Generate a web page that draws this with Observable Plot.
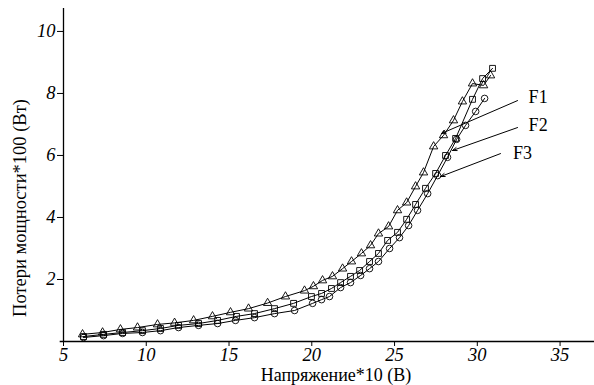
<!DOCTYPE html>
<html>
<head>
<meta charset="utf-8">
<script src="https://cdn.jsdelivr.net/npm/d3@7"></script>
<script src="https://cdn.jsdelivr.net/npm/@observablehq/plot@0.6"></script>
<style>
  html, body { margin: 0; padding: 0; background: #fff; }
  #chart svg { display: block; font-family: "Liberation Serif", "Times New Roman", serif; }
  #chart text.tick-italic, #chart .tick-italic text { font-style: italic; font-size: 18.5px; font-family: "Liberation Serif", serif; }
</style>
</head>
<body>
<div id="chart"></div>
<script>
// Series: triangles
const triX = [6.15, 7.36, 8.44, 9.47, 10.68, 11.71, 12.86, 14.0, 15.09, 16.18, 17.33, 18.41, 19.56, 20.1, 20.65, 21.25, 21.86, 22.4, 23.0, 23.55, 24.03, 24.64, 25.18, 25.73, 26.27, 26.75, 27.36, 27.96, 28.56, 29.1, 29.71, 30.38, 30.8];
const triY = [0.23, 0.29, 0.39, 0.45, 0.55, 0.60, 0.68, 0.81, 0.94, 1.06, 1.24, 1.45, 1.64, 1.78, 1.97, 2.10, 2.35, 2.58, 2.84, 3.10, 3.48, 3.71, 4.23, 4.48, 5.0, 5.45, 6.29, 6.65, 7.13, 7.74, 8.32, 8.26, 8.58];
// Series: squares
const sqX = [6.21, 7.42, 8.57, 9.77, 10.86, 11.95, 13.16, 14.31, 15.45, 16.54, 17.75, 18.9, 19.98, 20.59, 21.19, 21.74, 22.34, 22.89, 23.49, 24.03, 24.58, 25.18, 25.73, 26.27, 26.87, 27.48, 28.08, 28.69, 29.71, 30.32, 30.92];
const sqY = [0.16, 0.23, 0.29, 0.35, 0.42, 0.52, 0.58, 0.68, 0.81, 0.90, 1.06, 1.23, 1.45, 1.55, 1.71, 1.90, 2.10, 2.29, 2.58, 2.84, 3.26, 3.52, 3.94, 4.42, 4.94, 5.42, 6.0, 6.55, 7.81, 8.48, 8.81];
// Series: circles
const cirX = [6.21, 7.42, 8.57, 9.77, 10.86, 11.95, 13.16, 14.31, 15.39, 16.54, 17.75, 18.96, 20.05, 20.59, 21.07, 21.74, 22.34, 22.95, 23.49, 24.03, 24.7, 25.3, 25.85, 26.39, 27.0, 27.6, 28.2, 28.75, 29.29, 29.9, 30.44];
const cirY = [0.13, 0.19, 0.26, 0.29, 0.35, 0.45, 0.52, 0.58, 0.68, 0.77, 0.90, 1.0, 1.23, 1.35, 1.45, 1.74, 1.90, 2.13, 2.35, 2.58, 3.0, 3.35, 3.74, 4.23, 4.77, 5.35, 5.94, 6.52, 6.97, 7.42, 7.84];

// Annotations
const annLabels = ["F1", "F2", "F3"];
const annTextX = [33.1, 33.1, 32.15];
const annTextY = [7.87, 6.97, 6.06];
const annFromX = [32.43, 32.43, 31.4];
const annFromY = [7.77, 6.9, 6.06];
const annToX = [27.84, 28.5, 27.78];
const annToY = [6.71, 6.16, 5.32];

const xTicks = [5, 10, 15, 20, 25, 30, 35];
const yTicks = [2, 4, 6, 8, 10];
const xLabel = "Напряжение*10 (В)";
const yLabel = "Потери мощности*100 (Вт)";

const mk = (xs, ys) => xs.map((x, i) => ({x, y: ys[i]}));
const tri = mk(triX, triY), sq = mk(sqX, sqY), cir = mk(cirX, cirY);
const ann = annLabels.map((t, i) => ({t, tx: annTextX[i], ty: annTextY[i], x1: annFromX[i], y1: annFromY[i], x2: annToX[i], y2: annToY[i]}));

const chart = Plot.plot({
  width: 594,
  height: 385,
  marginLeft: 63,
  marginRight: 0,
  marginTop: 8,
  marginBottom: 44,
  style: {fontFamily: "Liberation Serif, serif", fontSize: "17px", color: "#000", background: "#fff"},
  x: {domain: [5, 37.08]},
  y: {domain: [0, 10.74]},
  marks: [
    Plot.axisX({ticks: xTicks, tickSize: 5, tickFormat: () => "", label: null}),
    Plot.axisY({ticks: yTicks, tickSize: 6, tickFormat: () => "", label: null}),
    Plot.text(xTicks, {x: d => d, y: 0, dy: 14, text: d => String(d), fontStyle: "italic", fontSize: 18.5, fontFamily: "Liberation Serif", fill: "#000", className: "tick-italic"}),
    Plot.text(yTicks, {x: 5, y: d => d, dx: -8, text: d => String(d), textAnchor: "end", fontStyle: "italic", fontSize: 18.5, fontFamily: "Liberation Serif", fill: "#000", className: "tick-italic"}),
    Plot.ruleY([0], {x1: 4.8, x2: 37.08, stroke: "#000", strokeWidth: 1.3}),
    Plot.ruleX([5], {y1: 0, y2: 10.74, stroke: "#000", strokeWidth: 1.3}),
    Plot.text([xLabel], {frameAnchor: "bottom", textAnchor: "middle", dy: 39, dx: 7, fontSize: 18, fill: "#000"}),
    Plot.text([yLabel], {frameAnchor: "left", textAnchor: "middle", dx: -43, dy: 33, rotate: -90, fontSize: 18.5, fill: "#000"}),
    Plot.line(tri, {x: "x", y: "y", stroke: "#000", strokeWidth: 1}),
    Plot.line(sq, {x: "x", y: "y", stroke: "#000", strokeWidth: 1}),
    Plot.line(cir, {x: "x", y: "y", stroke: "#000", strokeWidth: 1}),
    Plot.dot(tri, {x: "x", y: "y", symbol: "triangle", r: 3.1, stroke: "#000", fill: "none", strokeWidth: 0.9}),
    Plot.dot(sq, {x: "x", y: "y", symbol: "square", r: 3.3, stroke: "#000", fill: "none", strokeWidth: 0.9}),
    Plot.dot(cir, {x: "x", y: "y", symbol: "circle", r: 3.3, stroke: "#000", fill: "none", strokeWidth: 0.9}),
    Plot.arrow(ann, {x1: "x1", y1: "y1", x2: "x2", y2: "y2", stroke: "#000", strokeWidth: 1, headLength: 7, headAngle: 40}),
    Plot.text(ann, {x: "tx", y: "ty", text: "t", textAnchor: "start", fontSize: 18, fill: "#000"})
  ]
});
document.getElementById("chart").appendChild(chart);
</script>
</body>
</html>
